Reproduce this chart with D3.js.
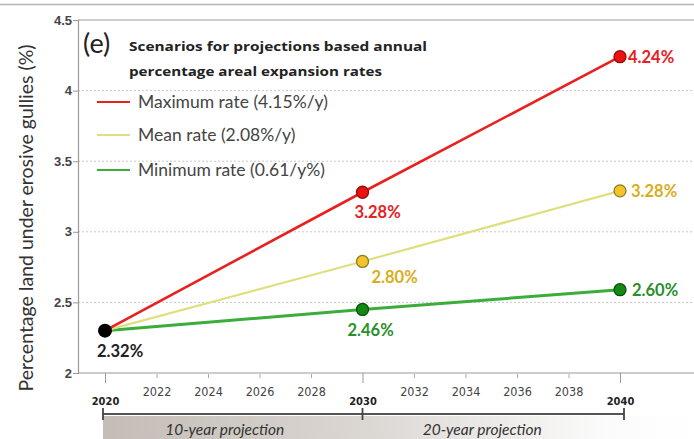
<!DOCTYPE html>
<html><head><meta charset="utf-8">
<script src="https://cdn.jsdelivr.net/npm/d3@7"></script>
<style>
html,body{margin:0;padding:0;background:#fff;}
svg{display:block;font-family:Lato,"Open Sans",sans-serif;}
</style></head>
<body><svg id="c" width="694" height="439"></svg>
<script>
// ---- data ----
const years = [2020, 2030, 2040];
const maxRate = [2.30, 3.28, 4.24];
const meanRate = [2.30, 2.79, 3.29];
const minRate = [2.30, 2.45, 2.59];
const maxLabels = ["3.28%", "4.24%"];
const meanLabels = ["2.80%", "3.28%"];
const minLabels = ["2.46%", "2.60%"];
const startLabel = "2.32%";
const legendNames = ["Maximum rate (4.15%/y)", "Mean rate (2.08%/y)", "Minimum rate (0.61/y%)"];
const yTicks = [2, 2.5, 3, 3.5, 4, 4.5];
const xMinorTicks = [2022, 2024, 2026, 2028, 2032, 2034, 2036, 2038];
const xMajorTicks = [2020, 2030, 2040];
const periods = ["10-year projection", "20-year projection"];

const svg = d3.select("#c");
const x = d3.scaleLinear().domain([2020, 2040]).range([105, 620]);
const y = d3.scaleLinear().domain([2, 4.5]).range([373, 20]);
const axisLeftX = 78, rightX = 694;

// outer frame line
svg.append("line").attr("x1",0).attr("x2",694).attr("y1",4.5).attr("y2",4.5).attr("stroke","#b5b5b5").attr("stroke-width",1.5);

// gridlines
yTicks.forEach(t=>{
  if (t===2) return;
  svg.append("line").attr("x1",axisLeftX).attr("x2",rightX).attr("y1",y(t)).attr("y2",y(t))
    .attr("stroke", t===4.5 ? "#bbb" : "#c8c8c8").attr("stroke-width", t===4.5?1.5:1)
    .attr("stroke-dasharray", t===4.5 ? null : "2,2");
});

// y axis
const ya = svg.append("g").attr("transform",`translate(${axisLeftX},0)`)
  .call(d3.axisLeft(y).tickValues(yTicks).tickSize(5).tickFormat(d=>d));
ya.select(".domain").attr("stroke","#999").attr("stroke-width",1.2);
ya.selectAll(".tick line").attr("stroke","#999");
ya.selectAll(".tick text").attr("font-size",13).attr("fill","#444").attr("font-weight","bold").attr("x",-6);

// x axis line
svg.append("line").attr("x1",axisLeftX).attr("x2",rightX).attr("y1",373).attr("y2",373).attr("stroke","#999").attr("stroke-width",1.2);
const xa = svg.append("g").attr("transform","translate(0,373)")
  .call(d3.axisBottom(x).tickValues(xMinorTicks).tickSize(5).tickFormat(d=>d));
xa.select(".domain").remove();
xa.selectAll(".tick line").attr("stroke","#aaa").attr("y1",1);
xa.selectAll(".tick text").attr("font-size",12.5).attr("fill","#444").attr("y",14).attr("transform",null)
  .attr("style","font-family:'Liberation Sans Narrow','DejaVu Sans Condensed',sans-serif");
const xm = svg.append("g").attr("transform","translate(0,373)")
  .call(d3.axisBottom(x).tickValues(xMajorTicks).tickSize(10).tickFormat(d=>d));
xm.select(".domain").remove();
xm.selectAll(".tick line").attr("stroke","#999");
xm.selectAll(".tick text").attr("font-size",11).attr("font-weight","bold").attr("fill","#222").attr("y",24)
  .attr("style","font-family:'Liberation Sans Narrow','DejaVu Sans Condensed',sans-serif");

// y axis title
svg.append("text").attr("transform","translate(33,218) rotate(-90)").attr("text-anchor","middle")
  .attr("font-size",19.5).attr("fill","#333").text("Percentage land under erosive gullies (%)");

// projection band
const defs = svg.append("defs");
const g = defs.append("linearGradient").attr("id","band").attr("x1","0").attr("x2","1").attr("y1","0").attr("y2","0");
g.append("stop").attr("offset","0%").attr("stop-color","#c4bdb6");
g.append("stop").attr("offset","45%").attr("stop-color","#dbd7d3");
g.append("stop").attr("offset","85%").attr("stop-color","#fbfbfb");
g.append("stop").attr("offset","100%").attr("stop-color","#ffffff");
svg.append("rect").attr("x",x(2020)-2).attr("y",416).attr("width",rightX-(x(2020)-2)).attr("height",23).attr("fill","url(#band)");
svg.append("line").attr("x1",x(2020)-2).attr("x2",x(2040)+4).attr("y1",414).attr("y2",414).attr("stroke","#555").attr("stroke-width",2);
[x(2020)-2, x(2030), x(2040)+4].forEach(px=>{
  svg.append("line").attr("x1",px).attr("x2",px).attr("y1",408).attr("y2",420).attr("stroke","#444").attr("stroke-width",1.8);
});
svg.append("text").attr("x",(x(2020)+x(2030))/2-9).attr("y",435).attr("text-anchor","middle")
  .attr("font-size",15.5).attr("font-style","italic").attr("fill","#333").text(periods[0]);
svg.append("text").attr("x",(x(2030)+x(2040))/2-9).attr("y",435).attr("text-anchor","middle")
  .attr("font-size",15.5).attr("font-style","italic").attr("fill","#333").text(periods[1]);

// lines
const line = d3.line().x((d,i)=>x(years[i])).y(d=>y(d));
const series = [
  {v:maxRate, c:"#e8211f", w:2.6, fill:"#ee1111", st:"#8a1010"},
  {v:meanRate, c:"#e0df80", w:2.2, fill:"#f3c42a", st:"#8a7a2a"},
  {v:minRate, c:"#3aad3a", w:3, fill:"#138a13", st:"#0b4d0b"}
];
series.slice().reverse().forEach(s=>{
  svg.append("path").attr("d",line(s.v)).attr("fill","none").attr("stroke",s.c).attr("stroke-width",s.w);
});
series.forEach(s=>{
  [1,2].forEach(i=>{
    svg.append("circle").attr("cx",x(years[i])).attr("cy",y(s.v[i])).attr("r",6)
      .attr("fill",s.fill).attr("stroke",s.st).attr("stroke-width",1.3);
  });
});
svg.append("circle").attr("cx",x(years[0])).attr("cy",y(maxRate[0])).attr("r",7).attr("fill","#000");

// value labels
function lab(px,py,t,c){
  svg.append("text").attr("x",px).attr("y",py)
    .attr("font-size",16.5).attr("font-weight","bold").attr("fill",c).text(t);
}
lab(x(2040)+8, y(maxRate[2])+6, maxLabels[1], "#e8201e");
lab(x(2030)-8, y(maxRate[1])+26, maxLabels[0], "#e8201e");
lab(x(2040)+11, y(meanRate[2])+6, meanLabels[1], "#d9ad1c");
lab(x(2030)+9, y(meanRate[1])+22, meanLabels[0], "#d9ad1c");
lab(x(2040)+12, y(minRate[2])+6, minLabels[1], "#2a8f2a");
lab(x(2030)-15, y(minRate[1])+27, minLabels[0], "#2a8f2a");
lab(x(2020)-8, y(maxRate[0])+26, startLabel, "#222");

// legend / title
svg.append("text").attr("x",83).attr("y",53).attr("font-size",27).attr("fill","#222").text("(e)");
svg.append("text").attr("x",129).attr("y",51).attr("font-size",13).attr("font-weight","bold").attr("fill","#222")
  .attr("style","font-family:'Open Sans',sans-serif")
  .attr("textLength",298).attr("lengthAdjust","spacingAndGlyphs").text("Scenarios for projections based annual");
svg.append("text").attr("x",129).attr("y",76).attr("font-size",13).attr("font-weight","bold").attr("fill","#222")
  .attr("style","font-family:'Open Sans',sans-serif")
  .attr("textLength",253).attr("lengthAdjust","spacingAndGlyphs").text("percentage areal expansion rates");
const ly = [102, 135, 170];
series.forEach((s,i)=>{
  svg.append("line").attr("x1",97).attr("x2",130).attr("y1",ly[i]).attr("y2",ly[i]).attr("stroke",s.c).attr("stroke-width",2.2);
  svg.append("text").attr("x",138).attr("y",ly[i]+6).attr("font-size",17.5).attr("fill","#444").text(legendNames[i]);
});
</script></body></html>
